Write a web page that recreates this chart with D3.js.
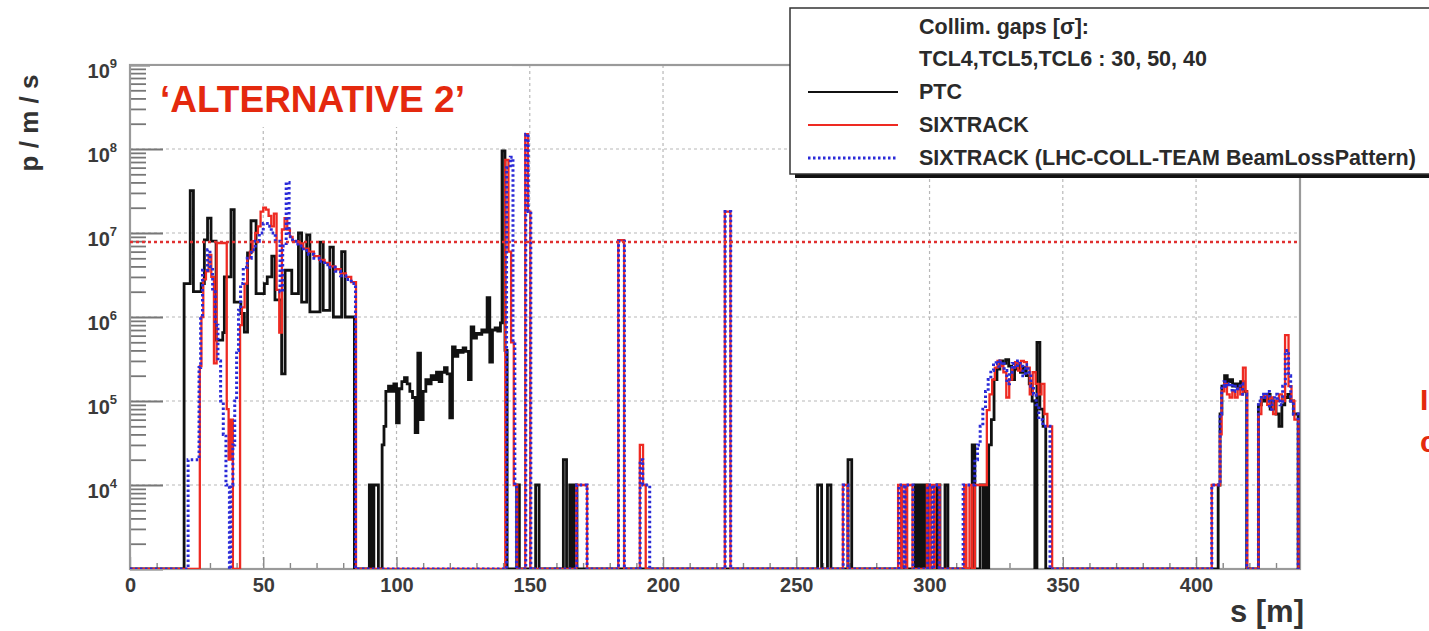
<!DOCTYPE html>
<html>
<head>
<meta charset="utf-8">
<script src="https://cdn.jsdelivr.net/npm/d3@7"></script>
<style>
  body { margin: 0; background: #fff; }
  svg { display: block; font-family: "Liberation Sans", Arial, sans-serif; }
</style>
</head>
<body>
<svg width="1429" height="631"></svg>
<script>
// histogram steps: [s (m), value], value holds until next step; 0 = empty bin
var ptc = [
  [0,0],[20.3,2.5e6],[22.6,3.2e7],[23.8,2e6],[26.7,2.5e6],[27.9,8.3e6],[29.1,1.5e7],[30.4,8e6],
  [32.3,5.3e5],[34.8,6.5e5],[35.4,3e6],[37.9,1.9e7],[39.1,1.5e6],[41.6,1.1e6],[42.9,6.6e5],
  [44.1,5.8e6],[45.4,1.4e7],[47.3,1.9e6],[50.4,2.5e6],[51.5,3e6],[53.2,5.3e6],[54.4,1.6e6],
  [56.9,2.1e5],[58.2,3.6e6],[60.7,1.9e6],[63.2,1e7],[64.4,1.5e6],[66.3,9.5e6],[67.5,1.15e6],
  [71.3,7.8e6],[72.5,1.2e6],[75,6.8e6],[76.3,1e6],[79.4,6e6],[80.7,1e6],[84.2,0],
  [89.8,1e4],[90.8,0],[91.5,1e4],[93.2,0],[94.6,3e4],[95.3,5e4],
  [96,1.3e5],[97,1.5e5],[98,1.3e5],[99,1.6e5],[100,5.5e4],[101,1.4e5],[102,1.7e5],[103,1.9e5],
  [104,1.6e5],[105,1.3e5],[106,1.1e5],[107,4.2e4],[108,3.7e5],[109,6e4],[110,1.3e5],[111,1.8e5],
  [112,1.6e5],[113,2e5],[114,1.8e5],[115,2.2e5],[116,1.7e5],[117,2.2e5],[118,2.5e5],[119,2.1e5],
  [120,6.3e4],[121,4.4e5],[122,3.4e5],[123,4e5],[124,3.8e5],[125,4.3e5],[126,3.9e5],[127,1.8e5],
  [128,7.6e5],[129,5.6e5],[130,6.4e5],[131,6.2e5],[132,7e5],[133,6.6e5],[134,1.7e6],[135,2.9e5],
  [136,7e5],[137,7.4e5],[138,6.8e5],[139,8.5e5],[139.6,9.5e7],[140.7,4e5],[141.5,0],
  [145.1,1e4],[146.1,0],[152.2,1e4],[153.5,0],[162.6,2e4],[163.8,0],[165,1e4],[166,0],[166.5,1e4],[167.7,0],
  [258,1e4],[259.5,0],[261.7,1e4],[263,0],[269.4,2e4],[270.8,0],
  [294.6,1e4],[295.4,0],[295.8,1e4],[296.6,0],[297,1e4],[298,0],[298.4,1e4],[299.2,0],
  [302.8,1e4],[303.9,0],[305.8,1e4],[306.9,0],
  [316,3e4],[317,0],[319,1e4],[320.2,0],[320.6,1e4],[321.6,0],[322.2,3e4],[323.2,6e4],[324.2,1.8e5],
  [325.3,2.4e5],[326.4,3e5],[327.5,2.8e5],[328.6,3.1e5],[329.7,2.6e5],[330.8,1.8e5],[331.9,2.4e5],
  [333,2.7e5],[334.1,2.2e5],[335.2,2.5e5],[336.3,2e5],[337.4,1.6e5],[338.5,1e5],[339.5,0],
  [340.3,5e5],[341.4,8e4],[342.6,5e4],[343.6,0],
  [408.3,1e4],[409,7e4],[409.7,1.5e5],[410.7,2e5],[411.7,1.7e5],[412.7,1.8e5],[413.7,1.5e5],
  [414.7,1.6e5],[415.7,1.4e5],[416.7,1.7e5],[417.7,1.3e5],[419,0],
  [423.4,9e4],[424.5,1.1e5],[425.6,1e5],[426.7,1.2e5],[427.8,8e4],[428.9,1e5],[430,7e4],[431.1,5e4],
  [432.2,9e4],[433.3,1.1e5],[434.4,1.2e5],[435.5,1e5],[436.6,7e4],[438.3,0]
];

var sixtrack = [
  [0,0],[26.2,2.6e5],[26.8,1e6],[27.5,2.8e6],[28.5,3.5e6],[29.5,5.5e6],[30.5,3e6],[31.5,2.8e5],
  [32.5,7.6e6],[36.3,8e4],[37,2e4],[37.8,6e4],[38.6,0],[41.3,8e5],[42,1.3e6],[43,2.5e6],[44,5e6],
  [45,6e6],[46,8e6],[47,1e7],[48,1.2e7],[49,1.8e7],[50,2e7],[51,1.9e7],[52,1.6e7],[53,1.2e7],
  [54,1.7e7],[55,2.1e6],[56,6.5e5],[57,1.1e7],[58,1.5e7],[59,1.1e7],[60,9e6],[61,8e6],[63,7.5e6],
  [65,6.5e6],[67,6e6],[69,5.3e6],[71,4.8e6],[73,4.4e6],[75,4e6],[77,3.7e6],[79,3.3e6],[81,3e6],
  [83,2.6e6],[84.8,0],
  [140.8,7.4e7],[142,6e6],[143,5e5],[144,1e4],[145.3,0],[148.3,1.5e8],[149.3,1.8e7],[150.2,0],
  [167.5,1e4],[171.5,0],[183.2,8.2e6],[185.4,0],[191.3,3e4],[192.5,1e4],[193.5,0],
  [223.2,1.8e7],[225.3,0],[267.5,1e4],[269.3,0],
  [288.2,1e4],[289.3,0],[289.8,1e4],[291,0],[291.6,1e4],[293.6,0],[299,1e4],[300,0],[300.5,1e4],
  [301.6,0],[302,1e4],[303.8,0],
  [313,1e4],[313.8,0],[315,1e4],[316,0],[317,1e4],[321.5,7.8e4],[322.5,1.2e5],[323.5,1.8e5],
  [324.5,2.5e5],[325.5,3e5],[326.6,2.6e5],[327.7,2.2e5],[328.8,1.1e5],[329.9,1.8e5],[331,2.5e5],
  [332.1,2.9e5],[333.2,2.3e5],[334.3,3e5],[335.4,2.9e5],[336.5,2.5e5],[337.6,1.2e5],[338.7,2.2e5],
  [339.8,1.6e5],[340.9,1.2e5],[342,1.6e5],[343.1,7e4],[344.2,5e4],[346,0],
  [405.9,1e4],[409,4e4],[409.6,1.3e5],[410.6,1.6e5],[411.6,1.2e5],[412.6,1.1e5],[413.6,1.3e5],
  [414.6,1.1e5],[415.6,1.4e5],[416.6,1.2e5],[417.6,2.5e5],[418.6,1.3e5],[419.2,0],
  [423.4,7e4],[424.5,1.1e5],[425.6,1.2e5],[426.7,9e4],[427.8,1.1e5],[428.9,7e4],[430,1e5],
  [431.1,1.2e5],[432.2,1e5],[433.4,6.1e5],[434.7,1.5e5],[435.8,1e5],[436.9,6e4],[438.4,0]
];

var beamLoss = [
  [0,0],[21.8,2e4],[25.9,2.5e5],[26.5,1e6],[27.2,3.6e6],[29.1,6.3e6],[30,4e6],[31,2e6],[32,8e5],
  [33,3e5],[34,1e5],[35,4e4],[36,1e4],[37.3,0],[37.8,1e4],[38.6,3e4],[39.3,1e5],[40,4e5],[40.7,1.2e6],
  [41.5,2.5e6],[42.5,3.9e6],[44,5e6],[45.5,6.3e6],[47,8e6],[48.5,1e7],[50,1.3e7],[51.5,1.2e7],
  [53,1e7],[54.5,8e6],[56.3,2e6],[57.3,7e6],[58.6,4e7],[59.7,9e6],[61,8e6],[63,7e6],[65,6.2e6],
  [67,5.6e6],[69,5e6],[71,4.6e6],[73,4.2e6],[75,3.9e6],[77,3.5e6],[79,3.1e6],[81,2.8e6],[83,2.5e6],
  [84.6,0],
  [141.3,6e7],[142.7,8e7],[143.7,5e5],[144.4,1e4],[145,0],[148.5,1.5e8],[149.4,1.8e7],[150.4,0],
  [167.6,1e4],[171.5,0],[183.3,8e6],[185.5,0],[191.4,2e4],[192.4,1e4],[195,0],
  [223.3,1.8e7],[225.4,0],[267.6,1e4],[269.4,0],
  [288.5,1e4],[290.5,0],[290.8,1e4],[293.8,0],[299.3,1e4],[301,0],[301.5,1e4],[303.6,0],
  [312.6,1e4],[317,2e4],[318,3e4],[319,5e4],[320,8e4],[321,1.3e5],[322,1.8e5],[323,2.3e5],
  [324,2.8e5],[325,3e5],[326,2.6e5],[327,2.9e5],[328,2.3e5],[329,1.6e5],[330,2.2e5],[331,2.8e5],
  [332,2.5e5],[333,3e5],[334,2.6e5],[335,2e5],[336,2.7e5],[337,2.2e5],[338,1.5e5],[339,1.2e5],
  [340,9e4],[341,6e4],[342.5,5e4],[345.2,0],
  [405.9,1e4],[409,7e4],[409.6,1.5e5],[410.5,1.7e5],[411.5,1.5e5],[412.5,1.6e5],[413.5,1.3e5],
  [414.5,1.5e5],[415.5,1.4e5],[416.5,1.6e5],[417.5,1.2e5],[419,0],
  [423.4,1e5],[424.5,1.2e5],[425.5,1.1e5],[426.5,1.3e5],[427.5,8e4],[428.5,1e5],[429.5,1.2e5],
  [430.5,1e5],[431.5,9e4],[432.5,1.5e5],[433.5,4e5],[434.7,2e5],[435.5,1e5],[436.5,7e4],[438.3,0]
];

var threshold = 7.8e6;
var xTicks = [0, 50, 100, 150, 200, 250, 300, 350, 400];
var yExps = [3, 4, 5, 6, 7, 8, 9];
var legendRows = ["PTC", "SIXTRACK", "SIXTRACK (LHC-COLL-TEAM BeamLossPattern)"];

var svg = d3.select("svg");
var fLeft = 130, fRight = 1300, fTop = 65, fBottom = 569;
var sMax = 439;

var x = d3.scaleLinear().domain([0, sMax]).range([fLeft, fRight]);
var y = d3.scaleLog().domain([1e3, 1e9]).range([fBottom, fTop]);

svg.append("rect").attr("width", 1429).attr("height", 631).attr("fill", "#fff");

svg.append("defs").append("clipPath").attr("id", "frame")
  .append("rect").attr("x", fLeft).attr("y", fTop - 2).attr("width", fRight - fLeft).attr("height", fBottom - fTop + 2);

// grid
var grid = svg.append("g").attr("stroke", "#b8b8b8").attr("stroke-width", 1.2).attr("stroke-dasharray", "3,3");
grid.selectAll(".gx").data(xTicks.slice(1)).enter().append("line")
  .attr("x1", d => x(d)).attr("x2", d => x(d)).attr("y1", fTop).attr("y2", fBottom);
grid.selectAll(".gy").data(yExps.slice(1, -1)).enter().append("line")
  .attr("x1", fLeft).attr("x2", fRight).attr("y1", d => y(Math.pow(10, d))).attr("y2", d => y(Math.pow(10, d)));

// y ticks (inside frame)
var minor = [];
for (var e = 3; e < 9; e++) for (var k = 2; k <= 9; k++) minor.push(k * Math.pow(10, e));
svg.append("g").attr("transform", "translate(" + fLeft + ",0)")
  .call(d3.axisRight(y).tickValues(minor).tickSize(16).tickFormat(""))
  .call(g => g.select(".domain").remove())
  .selectAll("line").attr("stroke", "#777").attr("stroke-width", 1.8);
svg.append("g").attr("transform", "translate(" + fLeft + ",0)")
  .call(d3.axisRight(y).tickValues(yExps.map(d => Math.pow(10, d))).tickSize(33).tickFormat(""))
  .call(g => g.select(".domain").remove())
  .selectAll("line").attr("stroke", "#777").attr("stroke-width", 1.8);

// x ticks (inside frame)
var xMinor = d3.range(10, sMax, 10).filter(d => d % 50 !== 0);
svg.append("g").attr("transform", "translate(0," + fBottom + ")")
  .call(d3.axisTop(x).tickValues(xMinor).tickSize(6).tickFormat(""))
  .call(g => g.select(".domain").remove())
  .selectAll("line").attr("stroke", "#888").attr("stroke-width", 1.4);
svg.append("g").attr("transform", "translate(0," + fBottom + ")")
  .call(d3.axisTop(x).tickValues(xTicks).tickSize(12).tickFormat(""))
  .call(g => g.select(".domain").remove())
  .selectAll("line").attr("stroke", "#888").attr("stroke-width", 1.4);

// x labels
var xl = svg.append("g").attr("transform", "translate(0," + fBottom + ")")
  .call(d3.axisBottom(x).tickValues(xTicks).tickSize(0).tickPadding(9).tickFormat(d3.format("d")));
xl.select(".domain").remove();
xl.selectAll("text").attr("font-size", 20).attr("font-weight", "bold").attr("fill", "#3a3a3a")
  .attr("font-family", "Liberation Sans, Arial, sans-serif");

// y labels 10^n
var yl = svg.append("g");
yExps.slice(1).forEach(function (ex) {
  var t = yl.append("text").attr("x", 117).attr("y", y(Math.pow(10, ex)) + 13)
    .attr("text-anchor", "end").attr("font-size", 20).attr("font-weight", "bold").attr("fill", "#3a3a3a");
  t.append("tspan").text("10");
  t.append("tspan").attr("dy", -10).attr("font-size", 13).text(ex);
});

// frame
svg.append("rect").attr("x", fLeft).attr("y", fTop).attr("width", fRight - fLeft).attr("height", fBottom - fTop)
  .attr("fill", "none").attr("stroke", "#9a9a9a").attr("stroke-width", 2.2);

// histograms
function yv(v) { return v > 0 ? y(Math.max(v, 1e3)) : fBottom; }
var step = d3.line().curve(d3.curveStepAfter).x(d => x(d[0])).y(d => yv(d[1]));
function ext(arr) { return arr.concat([[sMax, arr[arr.length - 1][1]]]); }

var plot = svg.append("g").attr("clip-path", "url(#frame)");
plot.append("path").datum(ext(ptc)).attr("d", step)
  .attr("fill", "none").attr("stroke", "#111").attr("stroke-width", 2.8);
plot.append("path").datum(ext(sixtrack)).attr("d", step)
  .attr("fill", "none").attr("stroke", "#ee2a22").attr("stroke-width", 2.3);
plot.append("path").datum(ext(beamLoss)).attr("d", step)
  .attr("fill", "none").attr("stroke", "#2a2ad8").attr("stroke-width", 3).attr("stroke-dasharray", "2.5,2.5");

// threshold line
plot.append("line").attr("x1", fLeft).attr("x2", fRight).attr("y1", y(threshold)).attr("y2", y(threshold))
  .attr("stroke", "#e03030").attr("stroke-width", 2.4).attr("stroke-dasharray", "3,3");

// axis titles
svg.append("text").attr("transform", "translate(38,123) rotate(-90)").attr("text-anchor", "middle")
  .attr("font-size", 26).attr("font-weight", "bold").attr("fill", "#333").text("p / m / s");
svg.append("text").attr("x", 1304).attr("y", 622).attr("text-anchor", "end")
  .attr("font-size", 31).attr("font-weight", "bold").attr("fill", "#333").text("s [m]");

// title box
svg.append("rect").attr("x", 150).attr("y", 66).attr("width", 362).attr("height", 61).attr("fill", "#fff");
svg.append("text").attr("x", 160).attr("y", 112).attr("font-size", 37).attr("font-weight", "bold")
  .attr("fill", "#e4290e").text("\u2018ALTERNATIVE 2\u2019");

// legend
var lg = svg.append("g");
lg.append("rect").attr("x", 795).attr("y", 13).attr("width", 640).attr("height", 165).attr("fill", "#111");
lg.append("rect").attr("x", 790).attr("y", 8).attr("width", 645).attr("height", 166)
  .attr("fill", "#fff").attr("stroke", "#333").attr("stroke-width", 1.5);
var lf = 21.5;
lg.append("text").attr("x", 919).attr("y", 34).attr("font-size", lf).attr("font-weight", "bold")
  .attr("fill", "#2a2a2a").text("Collim. gaps [\u03c3]:");
lg.append("text").attr("x", 919).attr("y", 66).attr("font-size", lf).attr("font-weight", "bold")
  .attr("fill", "#2a2a2a").text("TCL4,TCL5,TCL6 : 30, 50, 40");
var lstyle = [
  { c: "#111", w: 2.2, dash: null },
  { c: "#ee2a22", w: 2.2, dash: null },
  { c: "#2a2ad8", w: 2.8, dash: "2.5,2.5" }
];
legendRows.forEach(function (name, i) {
  var yy = 92 + i * 33;
  lg.append("line").attr("x1", 808).attr("x2", 898).attr("y1", yy).attr("y2", yy)
    .attr("stroke", lstyle[i].c).attr("stroke-width", lstyle[i].w).attr("stroke-dasharray", lstyle[i].dash);
  lg.append("text").attr("x", 919).attr("y", yy + 7).attr("font-size", lf).attr("font-weight", "bold")
    .attr("fill", "#2a2a2a").text(name);
});

// cut-off red text at right edge, as in the source picture
svg.append("text").attr("x", 1420).attr("y", 410).attr("font-size", 30).attr("font-weight", "bold")
  .attr("fill", "#e4290e").text("I");
svg.append("text").attr("x", 1420).attr("y", 452).attr("font-size", 30).attr("font-weight", "bold")
  .attr("fill", "#e4290e").text("c");
</script>
</body>
</html>
